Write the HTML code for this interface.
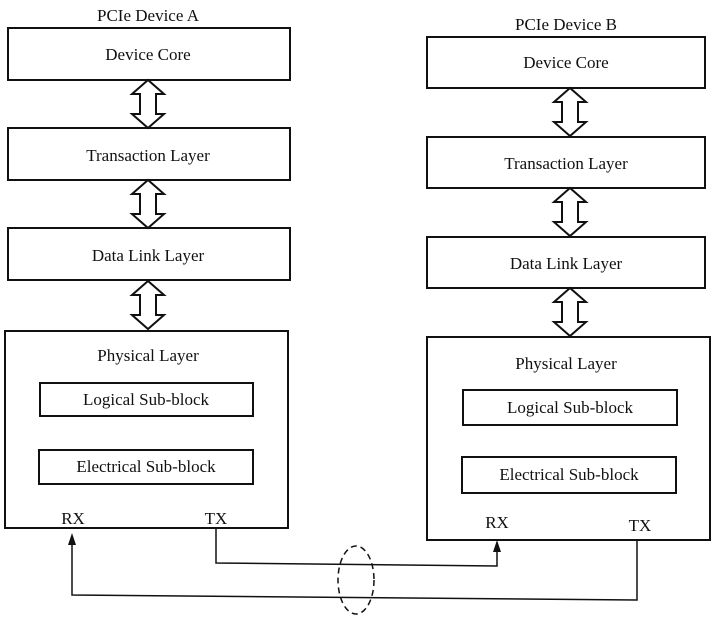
<!DOCTYPE html>
<html><head><style>
body{margin:0;background:#fff;}
svg text{font-family:"Liberation Serif",serif;font-size:17px;fill:#111;text-anchor:middle;}
</style></head><body>
<svg width="717" height="619" viewBox="0 0 717 619" xmlns="http://www.w3.org/2000/svg">
<defs>
<g id="dar">
<path d="M0,-24 L-16,-10 L-8,-10 L-8,10 L-16,10 L0,24 L16,10 L8,10 L8,-10 L16,-10 Z" fill="#fff" stroke="#111" stroke-width="2"/>
</g>
</defs>
<g fill="#fff" stroke="#111" stroke-width="2">
<!-- Device A -->
<rect x="8" y="28" width="282" height="52"/>
<rect x="8" y="128" width="282" height="52"/>
<rect x="8" y="228" width="282" height="52"/>
<rect x="5" y="331" width="283" height="197"/>
<rect x="40" y="383" width="213" height="33"/>
<rect x="39" y="450" width="214" height="34"/>
<!-- Device B -->
<rect x="427" y="37" width="278" height="51"/>
<rect x="427" y="137" width="278" height="51"/>
<rect x="427" y="237" width="278" height="51"/>
<rect x="427" y="337" width="283" height="203"/>
<rect x="463" y="390" width="214" height="35"/>
<rect x="462" y="457" width="214" height="36"/>
</g>
<use href="#dar" x="148" y="104"/>
<use href="#dar" x="148" y="204"/>
<use href="#dar" x="148" y="305"/>
<use href="#dar" x="570" y="112"/>
<use href="#dar" x="570" y="212"/>
<use href="#dar" x="570" y="312"/>
<text x="148" y="21">PCIe Device A</text>
<text x="148" y="60">Device Core</text>
<text x="148" y="161">Transaction Layer</text>
<text x="148" y="261">Data Link Layer</text>
<text x="148" y="361">Physical Layer</text>
<text x="146" y="405">Logical Sub-block</text>
<text x="146" y="472">Electrical Sub-block</text>
<text x="73" y="524">RX</text>
<text x="216" y="524">TX</text>
<text x="566" y="30">PCIe Device B</text>
<text x="566" y="68">Device Core</text>
<text x="566" y="169">Transaction Layer</text>
<text x="566" y="269">Data Link Layer</text>
<text x="566" y="369">Physical Layer</text>
<text x="570" y="413">Logical Sub-block</text>
<text x="569" y="480">Electrical Sub-block</text>
<text x="497" y="528">RX</text>
<text x="640" y="531">TX</text>
<g fill="none" stroke="#111" stroke-width="1.5">
<polyline points="216,528 216,563 497,566 497,550"/>
<polyline points="637,540 637,600 72,595 72,545"/>
<ellipse cx="356" cy="580" rx="18" ry="34" stroke-dasharray="6,4"/>
</g>
<path d="M497,540 L493,552 L501,552 Z" fill="#111"/>
<path d="M72,533 L68,545 L76,545 Z" fill="#111"/>
</svg>
</body></html>
